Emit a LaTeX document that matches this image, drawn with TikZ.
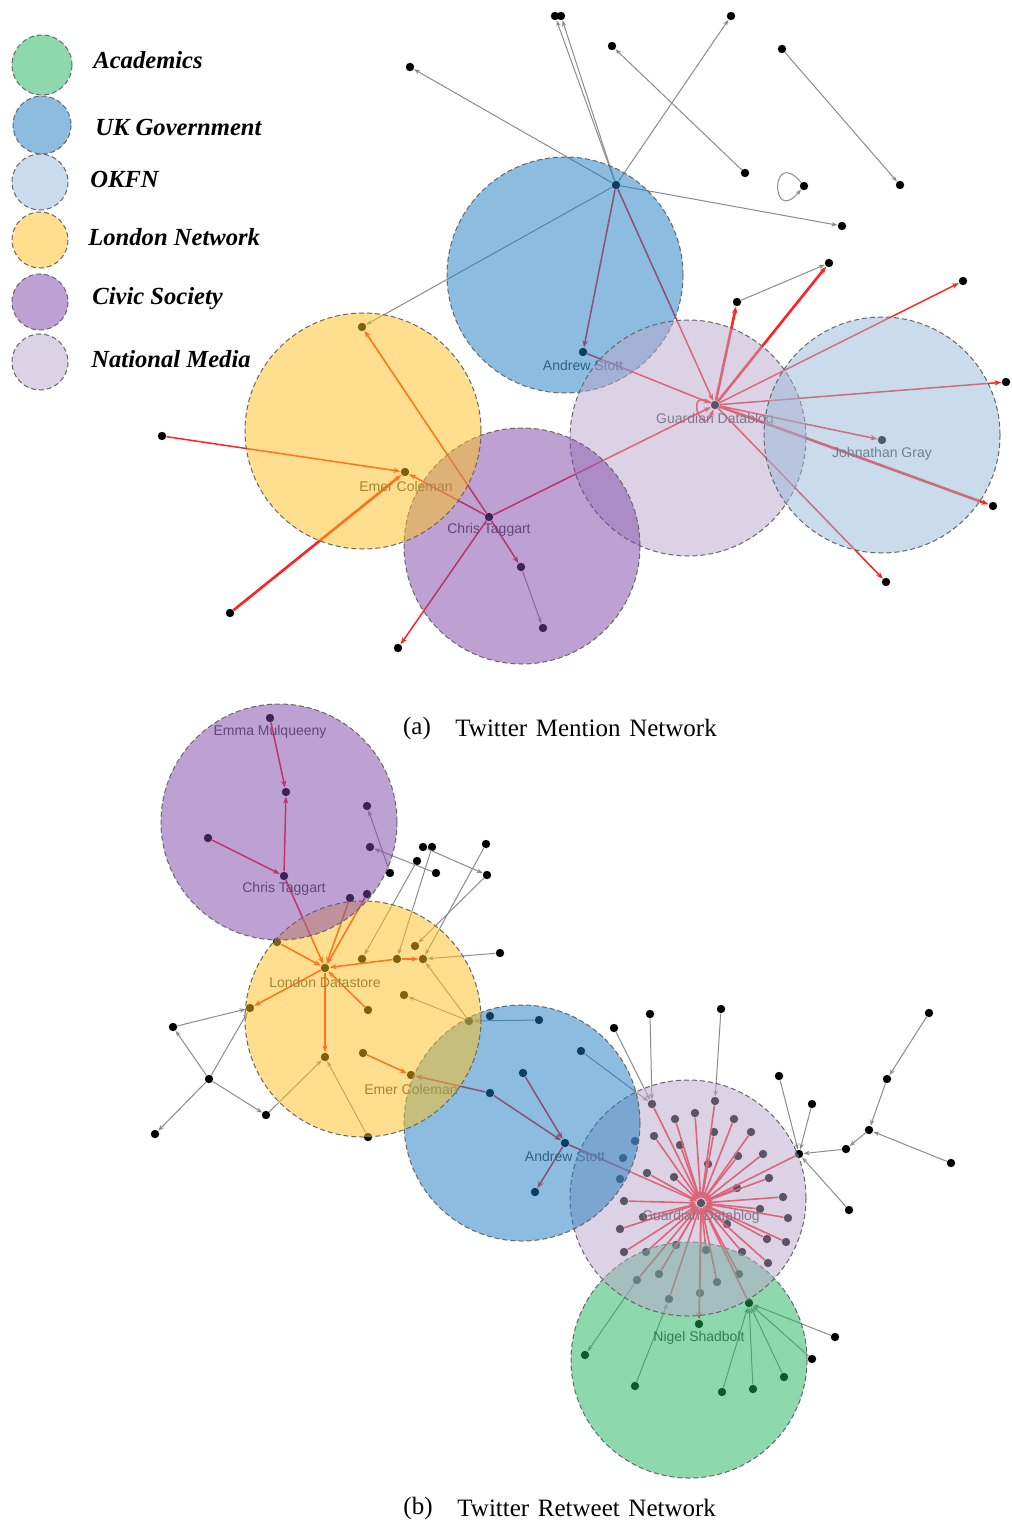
\documentclass[tikz,border=0pt]{standalone}
\usepackage{fontspec}
\setmainfont{Liberation Serif}
\newfontfamily\labfont{Liberation Sans}
\usetikzlibrary{arrows.meta}
\definecolor{cAc}{RGB}{29,179,93}
\definecolor{cUK}{RGB}{27,123,193}
\definecolor{cOK}{RGB}{151,185,217}
\definecolor{cLN}{RGB}{255,193,29}
\definecolor{cCS}{RGB}{127,69,169}
\definecolor{cNM}{RGB}{187,167,205}
\definecolor{rd}{RGB}{255,35,35}
\begin{document}
\begin{tikzpicture}[x=0.5pt,y=-0.5pt,
  dot/.style={circle,fill=black,inner sep=0pt,minimum size=4.2pt},
  ge/.style={draw=black!45,line width=0.5pt,-{Stealth[length=3pt,width=2.2pt]}},
  re/.style={draw=rd,line width=0.75pt,-{Stealth[length=3.5pt,width=2.6pt]}},
  rk/.style={re,line width=1.3pt},
  lab/.style={font=\labfont\fontsize{7}{8}\selectfont,text=black!72,inner sep=0pt},
  leg/.style={font=\bfseries\itshape\fontsize{12.3}{14}\selectfont,anchor=west,inner sep=0pt},
  captxt/.style={font=\fontsize{12.5}{14}\selectfont,inner sep=0pt},
  clus/.style={draw=black!60,dash pattern=on 2.5pt off 1.5pt,line width=0.5pt,fill opacity=0.5}]
\useasboundingbox (0,0) rectangle (1011,1524);
\fill[white] (0,0) rectangle (1011,1524);

% ---------------- legend ----------------
\draw[clus,fill=cAc] (42,65) circle[radius=30];
\draw[clus,fill=cUK] (42,125) circle[radius=29];
\draw[clus,fill=cOK] (40,182) circle[radius=28];
\draw[clus,fill=cLN] (40,240) circle[radius=28];
\draw[clus,fill=cCS] (40,302) circle[radius=28];
\draw[clus,fill=cNM] (40,362) circle[radius=28];
\node[leg] (lg1) at (93,60) {Academics};
\node[leg] (lg2) at (95,127) {UK Government};
\node[leg] (lg3) at (90,179) {OKFN};
\node[leg] (lg4) at (88,237) {London Network};
\node[leg] (lg5) at (92,299) {Civic Society};
\node[leg] (lg6) at (91,359) {National Media};

% ---------------- (a) mention network ----------------
\node[dot] (aH) at (616,185) {};
\node[dot] (at1) at (555,16) {};
\node[dot] (at2) at (561,16) {};
\node[dot] (an1) at (410,67) {};
\node[dot] (an2) at (731,16) {};
\node[dot] (ap1) at (612,46) {};
\node[dot] (ap2) at (745,173) {};
\node[dot] (aq1) at (782,49) {};
\node[dot] (aq2) at (900,185) {};
\node[dot] (alp) at (804,186) {};
\node[dot] (ar1) at (842,226) {};
\node[dot] (ay1) at (362,327) {};
\node[dot] (aAS) at (583,352) {};
\node[dot] (aG) at (715,405) {};
\node[dot] (ag1) at (737,302) {};
\node[dot] (ag2) at (829,263) {};
\node[dot] (ag3) at (963,281) {};
\node[dot] (ag4) at (1006,382) {};
\node[dot] (aJG) at (882,440) {};
\node[dot] (ag5) at (993,506) {};
\node[dot] (ag6) at (886,582) {};
\node[dot] (aCT) at (489,517) {};
\node[dot] (aEC) at (405,472) {};
\node[dot] (aw1) at (162,436) {};
\node[dot] (aw2) at (230,613) {};
\node[dot] (ac1) at (398,648) {};
\node[dot] (ac2) at (521,567) {};
\node[dot] (ac3) at (543,628) {};

\draw[ge] (aH) -- (at1);
\draw[ge] (aH) -- (at2);
\draw[ge] (aH) -- (an1);
\draw[ge] (aH) -- (an2);
\draw[ge] (ap2) -- (ap1);
\draw[ge] (aq1) -- (aq2);
\draw[ge] (aH) -- (ar1);
\draw[ge] (aH) -- (ay1);
\draw[ge] (ag1) -- (ag2);
\draw[ge] (ac2) -- (ac3);
\draw[ge] (alp) to[out=130,in=230,min distance=24pt] (alp);

\draw[re] (aH) -- (aAS);
\draw[re] (aH) -- (aG);
\draw[re] (aAS) -- (aG);
\draw[rk] (aG) -- (ag1);
\draw[rk] (aG) -- (ag2);
\draw[re] (aG) -- (ag3);
\draw[re] (aG) -- (ag4);
\draw[re] (aG) -- (aJG);
\draw[rk] (aG) -- (ag5);
\draw[re] (aG) -- (ag6);
\draw[re] (aG) to[out=150,in=250,min distance=16pt] (aG);
\draw[re] (aCT) -- (aG);
\draw[re] (aCT) -- (ay1);
\draw[re] (aCT) -- (aEC);
\draw[re] (aw1) -- (aEC);
\draw[rk] (aw2) -- (aEC);
\draw[re] (aCT) -- (ac1);
\draw[re] (aCT) -- (ac2);

\node[lab] (laAS) at (583,365) {Andrew Stott};
\node[lab] (laG) at (715,420) {Guardian Datablog};
\node[lab] (laJG) at (882,454) {Johnathan Gray};
\node[lab] (laEC) at (406,486) {Emer Coleman};
\node[lab] (laCT) at (489,530) {Chris Taggart};

\draw[clus,fill=cUK] (565,275) circle[radius=118];
\draw[clus,fill=cNM] (688,438) circle[radius=118];
\draw[clus,fill=cCS] (522,546) circle[radius=118];
\draw[clus,fill=cLN] (363,431) circle[radius=118];
\draw[clus,fill=cOK] (882,435) circle[radius=118];

\node[captxt] (capa1) at (417,728) {(a)};
\node[captxt,anchor=west] (capa2) at (455,728) {Twitter\hspace{1.2pt} Mention\hspace{1.2pt} Network};

% ---------------- (b) retweet network ----------------
\node[dot] (bEM) at (270,718) {};
\node[dot] (be2) at (286,792) {};
\node[dot] (bCT) at (284,876) {};
\node[dot] (be3) at (208,838) {};
\node[dot] (be4) at (367,806) {};
\node[dot] (be5) at (370,847) {};
\node[dot] (be6) at (350,898) {};
\node[dot] (be7) at (367,894) {};
\node[dot] (bk1) at (390,873) {};
\node[dot] (bk2) at (423,847) {};
\node[dot] (bk3) at (432,847) {};
\node[dot] (bk4) at (417,861) {};
\node[dot] (bk5) at (436,873) {};
\node[dot] (bk6) at (486,844) {};
\node[dot] (bk7) at (487,875) {};
\node[dot] (bLD) at (325,968) {};
\node[dot] (by1) at (277,942) {};
\node[dot] (by2) at (362,959) {};
\node[dot] (by3) at (397,959) {};
\node[dot] (by4) at (423,959) {};
\node[dot] (by5) at (415,946) {};
\node[dot] (by6) at (250,1008) {};
\node[dot] (by7) at (368,1010) {};
\node[dot] (by8) at (404,995) {};
\node[dot] (by9) at (325,1057) {};
\node[dot] (by10) at (363,1053) {};
\node[dot] (bEC) at (411,1075) {};
\node[dot] (by11) at (469,1021) {};
\node[dot] (br1) at (500,953) {};
\node[dot] (bl1) at (173,1027) {};
\node[dot] (bl2) at (209,1079) {};
\node[dot] (bl3) at (266,1115) {};
\node[dot] (bl4) at (155,1134) {};
\node[dot] (bl5) at (368,1137) {};
\node[dot] (bu1) at (490,1016) {};
\node[dot] (bu2) at (539,1020) {};
\node[dot] (bu3) at (581,1051) {};
\node[dot] (bu4) at (523,1073) {};
\node[dot] (bu5) at (490,1093) {};
\node[dot] (bAS) at (565,1143) {};
\node[dot] (bu6) at (535,1192) {};
\node[dot] (bu7) at (635,1141) {};
\node[dot] (bu8) at (623,1158) {};
\node[dot] (bu9) at (620,1179) {};
\node[dot] (bGD) at (701,1203) {};
\foreach \p [count=\i] in {(652,1104),(715,1101),(675,1119),(695,1113),(734,1119),(654,1136),(714,1132),(751,1132),(680,1145),(738,1156),(763,1154),(708,1164),(647,1173),(674,1177),(769,1178),(737,1188),(783,1197),(624,1201),(760,1209),(788,1218),(727,1224),(643,1217),(620,1229),(767,1239),(786,1242),(624,1252),(742,1252),(768,1263),(646,1252),(676,1245),(706,1250),(637,1280),(659,1274),(717,1282),(739,1274),(669,1299),(700,1293),(749,1303)}
  \node[dot] (bs\i) at \p {};
\node[dot] (bt1) at (614,1028) {};
\node[dot] (bt2) at (650,1014) {};
\node[dot] (bt3) at (721,1009) {};
\node[dot] (bR) at (799,1154) {};
\node[dot] (bR1) at (929,1013) {};
\node[dot] (bR2) at (887,1079) {};
\node[dot] (bR3) at (869,1130) {};
\node[dot] (bR4) at (846,1149) {};
\node[dot] (bR5) at (951,1163) {};
\node[dot] (bR6) at (779,1076) {};
\node[dot] (bR7) at (812,1104) {};
\node[dot] (bR8) at (849,1210) {};
\node[dot] (bNS) at (699,1324) {};
\node[dot] (bv1) at (585,1355) {};
\node[dot] (bv2) at (635,1386) {};
\node[dot] (bv3) at (722,1392) {};
\node[dot] (bv4) at (753,1389) {};
\node[dot] (bv5) at (784,1377) {};
\node[dot] (bv6) at (812,1359) {};
\node[dot] (bv7) at (835,1337) {};

\draw[re] (bEM) -- (be2);
\draw[re] (bCT) -- (be2);
\draw[re] (be3) -- (bCT);
\draw[ge] (bk1) -- (be4);
\draw[ge] (bk5) -- (be5);
\draw[ge] (bk2) -- (bk7);
\draw[ge] (bk3) -- (by3);
\draw[ge] (bk4) -- (by2);
\draw[ge] (bk6) -- (by4);
\draw[ge] (bk7) -- (by5);
\draw[ge] (br1) -- (by4);
\draw[re] (by1) -- (bLD);
\draw[re] (be6) -- (bLD);
\draw[re] (be7) -- (bLD);
\draw[re] (bCT) -- (bLD);
\draw[re] (bLD) -- (by6);
\draw[re] (bLD) -- (by9);
\draw[re] (by7) -- (bLD);
\draw[re] (by3) -- (bLD);
\draw[re] (by3) -- (by4);
\draw[re] (by10) -- (bEC);
\draw[ge] (by11) -- (by8);
\draw[ge] (by11) -- (by4);
\draw[ge] (bl1) -- (by6);
\draw[ge] (bl2) -- (bl1);
\draw[ge] (bl2) -- (by6);
\draw[ge] (bl2) -- (bl3);
\draw[ge] (bl2) -- (bl4);
\draw[ge] (bl3) -- (by9);
\draw[ge] (bl5) -- (by9);
\draw[ge] (bu2) -- (by11);
\draw[ge] (bu3) -- (bs1);
\draw[re] (bu4) -- (bAS);
\draw[re] (bu5) -- (bAS);
\draw[re] (bu5) -- (bEC);
\draw[re] (bAS) -- (bu6);
\draw[re] (bAS) -- (bGD);
\foreach \i in {1,...,38} \draw[re,line width=0.8pt] (bs\i) -- (bGD);
\draw[ge] (bt1) -- (bs1);
\draw[ge] (bt2) -- (bs1);
\draw[ge] (bt3) -- (bs2);
\draw[re,line width=0.8pt] (bR) -- (bGD);
\draw[ge] (bR1) -- (bR2);
\draw[ge] (bR2) -- (bR3);
\draw[ge] (bR5) -- (bR3);
\draw[ge] (bR3) -- (bR4);
\draw[ge] (bR4) -- (bR);
\draw[ge] (bR6) -- (bR);
\draw[ge] (bR7) -- (bR);
\draw[ge] (bR8) -- (bR);
\draw[re,line width=0.8pt] (bGD) -- (bNS);
\draw[ge] (bs32) -- (bv1);
\draw[ge] (bv2) -- (bs36);
\draw[ge] (bv3) -- (bs38);
\draw[ge] (bv4) -- (bs38);
\draw[ge] (bv5) -- (bs38);
\draw[ge] (bv6) -- (bs38);
\draw[ge] (bv7) -- (bs38);

\node[lab] (lbEM) at (270,732) {Emma Mulqueeny};
\node[lab] (lbCT) at (284,889) {Chris Taggart};
\node[lab] (lbLD) at (325,982) {London Datastore};
\node[lab] (lbEC) at (411,1089) {Emer Coleman};
\node[lab] (lbAS) at (565,1156) {Andrew Stott};
\node[lab] (lbGD) at (701,1217) {Guardian Datablog};
\node[lab] (lbNS) at (699,1338) {Nigel Shadbolt};

\draw[clus,fill=cAc] (689,1360) circle[radius=118];
\draw[clus,fill=cNM] (688,1198) circle[radius=118];
\draw[clus,fill=cUK] (522,1123) circle[radius=118];
\draw[clus,fill=cLN] (363,1019) circle[radius=118];
\draw[clus,fill=cCS] (279,822) circle[radius=118];

\node[captxt] (capb1) at (418,1508) {(b)};
\node[captxt,anchor=west] (capb2) at (457,1508) {Twitter\hspace{1.2pt} Retweet\hspace{1.2pt} Network};
\end{tikzpicture}
\end{document}
